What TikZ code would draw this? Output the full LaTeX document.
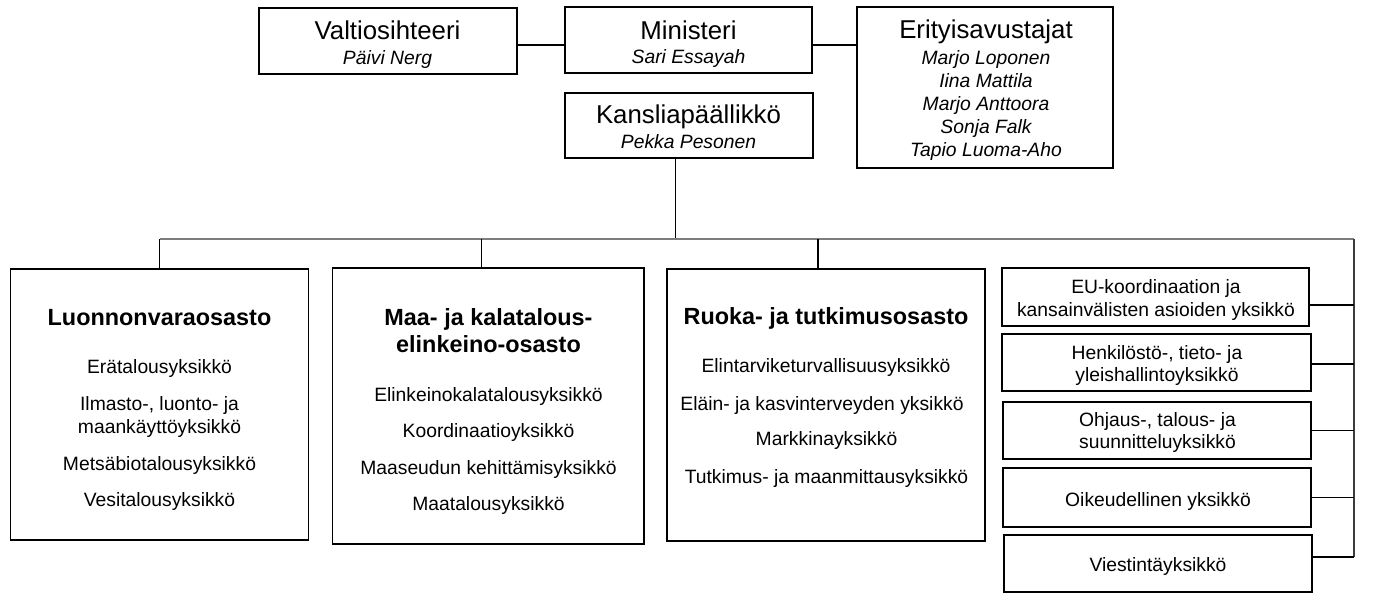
\documentclass[tikz,border=0pt]{standalone}
\usepackage{fontspec}
\setmainfont{Liberation Sans}
\definecolor{busgray}{RGB}{125,125,125}
\definecolor{spinegray}{RGB}{60,60,60}
\tikzset{
  box/.style={draw, line width=1.2pt, inner sep=0pt, outer sep=0pt},
  ttl/.style={font=\fontsize{25.8}{30}\selectfont, anchor=base, inner sep=0pt},
  nm/.style={font=\fontsize{19.3}{23}\selectfont\itshape, anchor=base, inner sep=0pt},
  bd/.style={font=\fontsize{23.4}{27}\selectfont\bfseries, anchor=base, inner sep=0pt},
  bt/.style={font=\fontsize{19.3}{23}\selectfont, anchor=base, inner sep=0pt},
  conn/.style={line width=1.2pt},
  busline/.style={line width=1.8pt, draw=busgray},
  spine/.style={line width=1.5pt, draw=spinegray},
}
\begin{document}
\begin{tikzpicture}[x=1pt,y=-1pt]
\useasboundingbox (0,0) rectangle (1384,610);
% boxes
\node[box, minimum width=258pt, minimum height=66pt] (valt) at (388,41) {};
\node[box, minimum width=247pt, minimum height=66pt] (mini) at (688.5,40) {};
\node[box, minimum width=248pt, minimum height=65pt] (kans) at (689,125.5) {};
\node[box, minimum width=256pt, minimum height=161pt] (erit) at (985,87.5) {};
\node[box, minimum width=298pt, minimum height=271pt] (luon) at (159.5,404.5) {};
\node[box, minimum width=311.5pt, minimum height=276pt] (maa) at (488.25,406) {};
\node[box, minimum width=318pt, minimum height=272pt] (ruoka) at (826,405) {};
\node[box, minimum width=307pt, minimum height=58pt] (eu) at (1155.5,297) {};
\node[box, minimum width=309pt, minimum height=57pt] (henk) at (1156.5,362.5) {};
\node[box, minimum width=308pt, minimum height=57pt] (ohj) at (1157,430.5) {};
\node[box, minimum width=308pt, minimum height=59pt] (oik) at (1157,497.5) {};
\node[box, minimum width=308pt, minimum height=57pt] (vies) at (1158,563.5) {};
% top texts
\node[ttl] (valtT) at (387.5,40) {Valtiosihteeri};
\node[nm] (valtN) at (387.5,65) {Päivi Nerg};
\node[ttl] (miniT) at (688.5,39.3) {Ministeri};
\node[nm] (miniN) at (688.5,63.3) {Sari Essayah};
\node[ttl] (kansT) at (688.5,123) {Kansliapäällikkö};
\node[nm] (kansN) at (688.5,148) {Pekka Pesonen};
\node[ttl] (eritT) at (986,38.3) {Erityisavustajat};
\foreach \t/\y [count=\i] in {Marjo Loponen/64, Iina Mattila/87.3, Marjo Anttoora/110.5, Sonja Falk/133.7, Tapio Luoma-Aho/156.9}
  \node[nm] (eritN\i) at (986,\y) {\t};
% departments
\node[bd] (luonT) at (159.5,325) {Luonnonvaraosasto};
\foreach \t/\y [count=\i] in {Erätalousyksikkö/373, {Ilmasto-, luonto- ja}/410, maankäyttöyksikkö/433.5, Metsäbiotalousyksikkö/470, Vesitalousyksikkö/506}
  \node[bt] (luonN\i) at (159.5,\y) {\t};
\node[bd] (maaT1) at (488.5,325) {Maa- ja kalatalous-};
\node[bd] (maaT2) at (488.5,352) {elinkeino-osasto};
\foreach \t/\y [count=\i] in {Elinkeinokalatalousyksikkö/401, Koordinaatioyksikkö/437, Maaseudun kehittämisyksikkö/474, Maatalousyksikkö/510}
  \node[bt] (maaN\i) at (488.5,\y) {\t};
\node[bd] (ruokaT) at (826,324.3) {Ruoka- ja tutkimusosasto};
\node[bt] (ruokaN1) at (826,372.7) {Elintarviketurvallisuusyksikkö};
\node[bt] (ruokaN2) at (822,410) {Eläin- ja kasvinterveyden yksikkö};
\node[bt] (ruokaN3) at (826.5,445.7) {Markkinayksikkö};
\node[bt] (ruokaN4) at (826.5,483.3) {Tutkimus- ja maanmittausyksikkö};
% right units
\node[bt] (euT1) at (1156,293.3) {EU-koordinaation ja};
\node[bt] (euT2) at (1156,316.7) {kansainvälisten asioiden yksikkö};
\node[bt] (henkT1) at (1157,359.3) {Henkilöstö-, tieto- ja};
\node[bt] (henkT2) at (1157,381.7) {yleishallintoyksikkö};
\node[bt] (ohjT1) at (1157.5,426) {Ohjaus-, talous- ja};
\node[bt] (ohjT2) at (1157.5,448.5) {suunnitteluyksikkö};
\node[bt] (oikT) at (1158,506) {Oikeudellinen yksikkö};
\node[bt] (viesT) at (1158,571.7) {Viestintäyksikkö};
% connectors
\coordinate (busL) at (160,239);
\coordinate (busR) at (1354,239);
\coordinate (spineB) at (1354,557);
\draw[conn] ([yshift=-4pt]valt.east) coordinate (c1) -- (c1 -| mini.west);
\draw[conn] ([yshift=-5pt]mini.east) coordinate (c2) -- (c2 -| erit.west);
\draw[conn] ([xshift=-13.4pt]kans.south) coordinate (c3) -- (c3 |- busL);
\draw[busline] (busL) -- (busR);
\draw[spine] (busR) -- (spineB);
\draw[conn] (luon.north) coordinate (c4) -- (c4 |- busL);
\draw[conn] ([xshift=-7pt]maa.north) coordinate (c5) -- (c5 |- busL);
\draw[conn] ([xshift=-8pt]ruoka.north) coordinate (c6) -- (c6 |- busL);
\draw[conn] ([yshift=-8pt]eu.east) coordinate (c7) -- (c7 -| busR);
\draw[conn] ([yshift=-1.5pt]henk.east) coordinate (c8) -- (c8 -| busR);
\draw[conn] (ohj.east) coordinate (c9) -- (c9 -| busR);
\draw[conn] (oik.east) coordinate (c10) -- (c10 -| busR);
\draw[conn] ([yshift=6.5pt]vies.east) coordinate (c11) -- (c11 -| busR);
\end{tikzpicture}
\end{document}
